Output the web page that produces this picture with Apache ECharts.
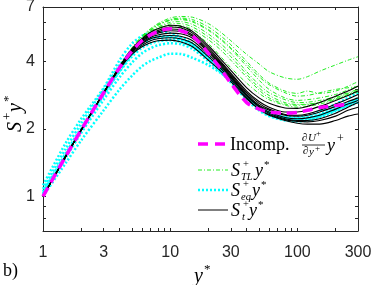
<!DOCTYPE html>
<html><head><meta charset="utf-8">
<script src="https://cdn.jsdelivr.net/npm/echarts@6/dist/echarts.min.js"></script>
<style>html,body{margin:0;padding:0;background:#fff}#c{width:374px;height:285px}</style>
</head><body><div id="c"></div><script>
// y* grid shared by all curves
const yStar = [1, 1.5, 2, 3, 4, 5, 6, 7, 8, 10, 12, 15, 20, 25, 30, 40, 50, 60, 80, 100, 120, 150, 200, 250, 300];

// Incompressible dU+/dy+ y+
const incomp = [1.0, 1.5, 1.98, 2.9, 3.75, 4.45, 4.95, 5.25, 5.45, 5.6, 5.5, 5.2, 4.35, 3.7, 3.2, 2.62, 2.45, 2.38, 2.35, 2.37, 2.42, 2.49, 2.54, 2.57, null];

// S_TL+ y* (green)
const sTL = [
  [1,1.5,1.98,2.9,3.8,4.6,5.2,5.6,5.9,6.25,6.35,6.3,5.9,5.4,4.95,4.3,3.9,3.6,3.38,3.33,3.42,3.62,3.86,4.05,4.2],
  [1,1.5,1.98,2.9,3.8,4.58,5.15,5.55,5.85,6.15,6.25,6.15,5.7,5.2,4.75,4.0,3.5,3.2,2.95,2.88,2.95,2.88,2.95,3.1,3.25],
  [1,1.5,1.98,2.9,3.8,4.55,5.1,5.5,5.8,6.1,6.15,6.0,5.5,5.0,4.55,3.8,3.3,3.0,2.75,2.68,2.7,2.75,2.85,2.98,3.1],
  [1,1.5,1.98,2.9,3.8,4.52,5.05,5.45,5.7,5.98,6.02,5.85,5.3,4.8,4.35,3.6,3.15,2.9,2.7,2.62,2.63,2.68,2.78,2.9,3.0],
  [1,1.5,1.98,2.9,3.78,4.5,5.0,5.4,5.65,5.88,5.9,5.7,5.15,4.65,4.2,3.5,3.05,2.82,2.62,2.57,2.58,2.62,2.72,2.85,2.95],
  [1,1.5,1.98,2.9,3.78,4.48,4.95,5.35,5.6,5.78,5.78,5.55,5.0,4.5,4.05,3.4,2.98,2.75,2.58,2.55,2.57,2.63,2.75,2.88,2.98],
  [1,1.5,1.98,2.9,3.76,4.46,4.95,5.3,5.52,5.7,5.68,5.42,4.8,4.2,3.75,3.2,2.88,2.7,2.55,2.5,2.52,2.58,2.7,2.82,2.92],
  [1,1.5,1.98,2.9,3.8,4.58,5.1,5.5,5.8,6.12,6.2,6.05,5.55,5.05,4.6,3.9,3.42,3.15,2.9,2.8,2.82,2.9,3.0,3.05,3.1]
];

// S_eq+ y* (cyan)
const sEq = [
  [1.12,1.72,2.22,3.05,4.05,4.8,5.2,5.38,5.42,5.35,5.15,4.8,4.2,3.72,3.35,2.82,2.52,2.38,2.25,2.22,2.25,2.32,2.48,2.6,2.7],
  [1.08,1.62,2.12,3.0,3.85,4.5,4.9,5.1,5.18,5.18,5.05,4.75,4.15,3.7,3.32,2.78,2.48,2.34,2.22,2.2,2.22,2.3,2.45,2.58,2.7],
  [1.05,1.55,2.02,2.85,3.6,4.2,4.6,4.8,4.92,4.98,4.9,4.65,4.08,3.65,3.28,2.75,2.45,2.3,2.2,2.18,2.2,2.28,2.42,2.55,2.68],
  [1.02,1.48,1.92,2.7,3.4,3.95,4.35,4.58,4.72,4.82,4.78,4.55,4.0,3.58,3.22,2.7,2.42,2.28,2.18,2.16,2.18,2.25,2.4,2.52,2.62],
  [1.0,1.4,1.78,2.42,3.0,3.45,3.8,4.02,4.15,4.33,4.32,4.15,3.85,3.55,3.3,2.8,2.5,2.35,2.22,2.22,2.25,2.3,2.45,2.6,2.75],
  [1.03,1.52,1.98,2.82,3.62,4.3,4.75,5.0,5.1,5.12,5.0,4.72,4.12,3.68,3.3,2.78,2.5,2.36,2.26,2.26,2.3,2.4,2.58,2.75,2.9]
];

// S_t+ y* (black)
const sT = [
  [1,1.5,1.98,2.9,3.8,4.55,5.05,5.4,5.6,5.8,5.75,5.45,4.7,4.1,3.65,3.05,2.75,2.6,2.48,2.47,2.52,2.62,2.8,2.95,3.1],
  [1,1.5,1.98,2.9,3.8,4.5,5.0,5.3,5.5,5.7,5.65,5.35,4.6,4.0,3.55,2.95,2.65,2.5,2.38,2.38,2.42,2.52,2.68,2.82,2.95],
  [1,1.5,1.98,2.9,3.78,4.48,4.95,5.25,5.42,5.58,5.55,5.25,4.5,3.95,3.5,2.9,2.6,2.45,2.32,2.3,2.33,2.42,2.58,2.72,2.85],
  [1,1.5,1.98,2.9,3.76,4.45,4.9,5.2,5.35,5.48,5.45,5.18,4.45,3.9,3.45,2.85,2.55,2.42,2.3,2.28,2.3,2.38,2.52,2.65,2.75],
  [1,1.5,1.98,2.9,3.75,4.42,4.85,5.12,5.25,5.35,5.32,5.08,4.4,3.85,3.42,2.82,2.52,2.38,2.25,2.22,2.24,2.3,2.45,2.58,2.68],
  [1,1.5,1.98,2.9,3.74,4.4,4.8,5.05,5.15,5.22,5.18,4.95,4.3,3.8,3.38,2.8,2.5,2.35,2.22,2.18,2.18,2.22,2.35,2.5,2.62],
  [1,1.5,1.98,2.9,3.72,4.35,4.72,4.95,5.05,5.1,5.05,4.82,4.2,3.72,3.32,2.75,2.45,2.3,2.18,2.12,2.1,2.1,2.18,2.28,2.33],
  [1,1.5,1.98,2.88,3.7,4.3,4.65,4.85,4.95,4.98,4.9,4.65,4.05,3.62,3.25,2.72,2.45,2.32,2.2,2.16,2.15,2.18,2.28,2.42,2.5]
];

// axis ticks
const xLabels = [1, 3, 10, 30, 100, 300];
const xTicks = [1,2,3,4,5,6,7,8,9,10,20,30,40,50,60,70,80,90,100,200,300];
const yLabels = [1, 2, 4, 7];
const yTicks = [0.7,0.8,0.9,1,2,3,4,5,6,7];

const AX = '#262626';
const pairs = vals => yStar.map((x, i) => [x, vals[i]]).filter(p => p[1] != null);

const series = [];
sEq.forEach(v => series.push({type:'line', name:'eq', data:pairs(v), symbol:'none', smooth:0.3,
  lineStyle:{color:'#00ffff', width:2.5, type:[2,2]}}));
sTL.forEach(v => series.push({type:'line', name:'tl', data:pairs(v), symbol:'none', smooth:0.3,
  lineStyle:{color:'#22ee22', width:1, type:[4,2,1,2]}}));
sT.forEach(v => series.push({type:'line', name:'t', data:pairs(v), symbol:'none', smooth:0.3,
  lineStyle:{color:'#000000', width:1.1}}));
series.push({type:'line', name:'incomp', data:pairs(incomp), symbol:'none', smooth:0.3,
  lineStyle:{color:'#ff00ff', width:3.5, type:[10,6]}});

const serif = 'Liberation Serif';
function T(x, y, text, size, italic, extra) {
  return Object.assign({type:'text', x:x, y:y, silent:true,
    style:{text:text, fontFamily:serif, fontSize:size, fontStyle: italic ? 'italic' : 'normal',
      fill:'#000', verticalAlign:'middle', align:'left'}}, extra || {});
}
const legendEls = [
  {type:'line', shape:{x1:198, y1:144, x2:228, y2:144}, style:{stroke:'#ff00ff', lineWidth:3.5, lineDash:[10,7]}},
  T(230, 145, 'Incomp.', 18, false),
  T(302, 138, '∂', 11, false), T(308, 138, 'U', 11, true), T(316, 134, '+', 9, false),
  {type:'line', shape:{x1:302, y1:145, x2:325, y2:145}, style:{stroke:'#000', lineWidth:0.8}},
  T(303, 151, '∂', 11, false), T(309, 152, 'y', 11, true), T(315, 149, '+', 9, false),
  T(327, 146, 'y', 18, true), T(337, 139, '+', 12, false),

  {type:'line', shape:{x1:198, y1:170, x2:228, y2:170}, style:{stroke:'#22ee22', lineWidth:1, lineDash:[4,2,1,2]}},
  T(231, 171, 'S', 18, true), T(243, 164, '+', 10.5, false), T(241, 177, 'TL', 10.5, true),
  T(255, 171, 'y', 18, true), T(264, 165, '*', 11, false),

  {type:'line', shape:{x1:198, y1:190, x2:228, y2:190}, style:{stroke:'#00ffff', lineWidth:2.5, lineDash:[2,2]}},
  T(231, 191, 'S', 18, true), T(243, 184, '+', 10.5, false), T(241, 197, 'eq', 10.5, true),
  T(252, 191, 'y', 18, true), T(261, 185, '*', 11, false),

  {type:'line', shape:{x1:198, y1:210, x2:228, y2:210}, style:{stroke:'#000', lineWidth:1}},
  T(231, 211, 'S', 18, true), T(243, 204, '+', 10.5, false), T(242, 217, 't', 10.5, true),
  T(249, 211, 'y', 18, true), T(258, 205, '*', 11, false)
];

// axis titles
const xTitle = {type:'group', children:[T(194, 277, 'y', 20, true), T(204, 270, '*', 13, false)]};
const yTitle = {type:'group', x:16, y:110, rotation:Math.PI/2, children:[
  T(-22, 0, 'S', 20, true), T(-10, -8, '+', 13, false), T(-2, 0, 'y', 20, true), T(8, -7, '*', 13, false)
]};

const baseAxis = {
  type:'log', logBase:10,
  axisLine:{show:true, onZero:false, lineStyle:{color:AX, width:1}},
  splitLine:{show:false}, minorTick:{show:false}, minorSplitLine:{show:false}
};
const lblFont = {fontFamily:'Liberation Sans', fontSize:16, color:AX};

const option = {
  animation:false,
  backgroundColor:'#fff',
  grid:{left:43, top:7, width:315, height:224, containLabel:false, outerBoundsMode:'none'},
  xAxis:[
    Object.assign({}, baseAxis, {min:1, max:300, position:'bottom',
      axisTick:{show:true, inside:true, length:3, customValues:xTicks, lineStyle:{color:AX}},
      axisLabel:Object.assign({show:true, margin:14, customValues:xLabels, formatter:v => String(Math.round(v))}, lblFont)}),
    Object.assign({}, baseAxis, {min:1, max:300, position:'top',
      axisTick:{show:true, inside:true, length:3, customValues:xTicks, lineStyle:{color:AX}},
      axisLabel:{show:false}})
  ],
  yAxis:[
    Object.assign({}, baseAxis, {min:0.7, max:7, position:'left',
      axisTick:{show:true, inside:true, length:3, customValues:yTicks, lineStyle:{color:AX}},
      axisLabel:Object.assign({show:true, margin:8, customValues:yLabels, formatter:v => String(Math.round(v))}, lblFont)}),
    Object.assign({}, baseAxis, {min:0.7, max:7, position:'right',
      axisTick:{show:true, inside:true, length:3, customValues:yTicks, lineStyle:{color:AX}},
      axisLabel:{show:false}})
  ],
  series:series,
  graphic:[
    {type:'group', children:legendEls},
    xTitle, yTitle,
    T(3, 271, 'b)', 18, false)
  ]
};
const chart = echarts.init(document.getElementById('c'), null, {renderer:'canvas'});
chart.setOption(option);
</script></body></html>
